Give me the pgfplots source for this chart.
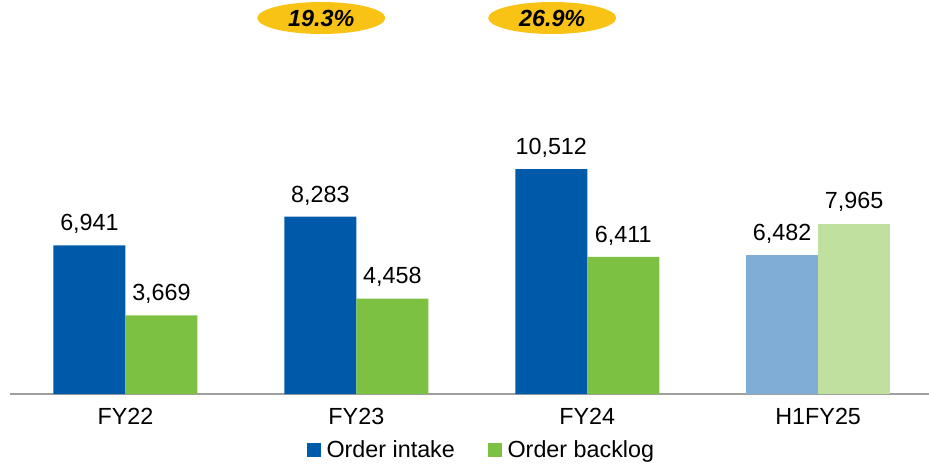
\documentclass[border=0pt]{standalone}
\usepackage{pgfplots}
\pgfplotsset{compat=1.18}
\usepackage{fontspec}
\setmainfont{Liberation Sans}
\usetikzlibrary{shapes.geometric}
\definecolor{cblue}{HTML}{005AAA}
\definecolor{cgreen}{HTML}{7DC142}
\definecolor{clblue}{HTML}{7FADD6}
\definecolor{clgreen}{HTML}{BFE09F}
\definecolor{cgold}{HTML}{F9C315}
\newcommand\f{\fontsize{17.5pt}{21pt}\selectfont}
\begin{document}
\begin{tikzpicture}
\useasboundingbox (0,0) rectangle (696.75pt,348.75pt);
\begin{axis}[
  at={(7.5pt,53.25pt)}, anchor=south west,
  scale only axis, width=689.25pt, height=295.5pt,
  xmin=-0.5, xmax=3.48, ymin=0, ymax=18408,
  clip=false,
  hide y axis,
  axis x line*=bottom,
  x axis line style={draw=gray!75, line width=1.5pt},
  xtick={0,1,2,3}, xticklabels={FY22,FY23,FY24,H1FY25},
  xtick style={draw=none},
  xticklabel style={font=\f, inner sep=0pt, anchor=north, yshift=-6.4pt},
  ybar, bar width=54pt,
  /pgf/number format/assume math mode=true,
  nodes near coords={\pgfmathprintnumber[fixed,precision=0,1000 sep={,}]{\pgfplotspointmeta}},
  every node near coord/.append style={font=\f, inner sep=0pt, anchor=base, yshift=11pt, text=black},
  legend style={at={(0.5136,-0.142)}, anchor=center, draw=none, fill=none, legend columns=2,
    font=\f, /tikz/every even column/.append style={column sep=23pt},
    /tikz/every odd column/.append style={column sep=2pt},
    cells={anchor=west}, inner sep=0pt},
  legend image code/.code={\fill[#1] (0pt,-5.25pt) rectangle (10.5pt,5.25pt);},
]
\addplot[fill=cblue, draw=none, bar shift=-27pt] coordinates {(0,6941) (1,8283) (2,10512)};
\addlegendentry{Order intake}
\addplot[fill=cgreen, draw=none, bar shift=27pt] coordinates {(0,3669) (1,4458) (2,6411)};
\addlegendentry{Order backlog}
\addplot[fill=clblue, draw=none, bar shift=-27pt, forget plot] coordinates {(3,6482)};
\addplot[fill=clgreen, draw=none, bar shift=27pt, forget plot] coordinates {(3,7965)};
\node[ellipse, fill=cgold, minimum width=96pt, minimum height=24pt, inner sep=0pt,
  font=\f\bfseries\itshape] at (axis cs:0.848,17567) {19.3\%};
\node[ellipse, fill=cgold, minimum width=96pt, minimum height=24pt, inner sep=0pt,
  font=\f\bfseries\itshape] at (axis cs:1.848,17567) {26.9\%};
\end{axis}
\end{tikzpicture}
\end{document}
